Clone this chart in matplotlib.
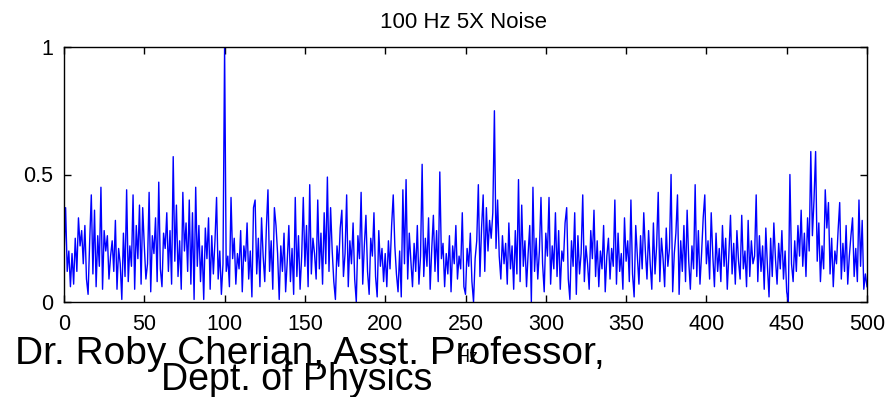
import matplotlib
matplotlib.use("Agg")
import matplotlib.pyplot as plt

title = "100 Hz 5X Noise"
xlabel = "Hz"
credit1 = "Dr. Roby Cherian, Asst. Professor,"
credit2 = "Dept. of Physics"
xticks = [0, 50, 100, 150, 200, 250, 300, 350, 400, 450, 500]
yticks = [0, 0.5, 1]
ytick_labels = ["0", "0.5", "1"]

# amplitude per Hz, 0..500 Hz
amp = [
    0.18, 0.37, 0.12, 0.20, 0.06, 0.19, 0.07, 0.25, 0.12, 0.33,
    0.22, 0.28, 0.15, 0.30, 0.09, 0.03, 0.24, 0.42, 0.11, 0.36,
    0.06, 0.26, 0.14, 0.45, 0.05, 0.28, 0.20, 0.26, 0.09, 0.18,
    0.24, 0.12, 0.32, 0.05, 0.21, 0.15, 0.01, 0.27, 0.10, 0.44,
    0.08, 0.22, 0.14, 0.42, 0.05, 0.30, 0.17, 0.38, 0.07, 0.37,
    0.22, 0.09, 0.15, 0.43, 0.04, 0.26, 0.19, 0.33, 0.08, 0.47,
    0.13, 0.06, 0.27, 0.21, 0.35, 0.12, 0.28, 0.07, 0.57, 0.16,
    0.38, 0.10, 0.24, 0.05, 0.43, 0.20, 0.31, 0.12, 0.40, 0.07,
    0.35, 0.01, 0.45, 0.14, 0.30, 0.08, 0.22, 0.01, 0.29, 0.17,
    0.33, 0.05, 0.26, 0.11, 0.24, 0.41, 0.09, 0.20, 0.03, 0.15,
    1.00, 0.12, 0.18, 0.06, 0.41, 0.17, 0.25, 0.07, 0.19, 0.13,
    0.28, 0.04, 0.22, 0.16, 0.31, 0.09, 0.20, 0.02, 0.37, 0.40,
    0.11, 0.25, 0.06, 0.33, 0.18, 0.08, 0.29, 0.44, 0.12, 0.24,
    0.05, 0.37, 0.30, 0.19, 0.01, 0.22, 0.12, 0.27, 0.04, 0.16,
    0.30, 0.08, 0.21, 0.03, 0.41, 0.10, 0.26, 0.05, 0.18, 0.41,
    0.14, 0.30, 0.06, 0.46, 0.11, 0.25, 0.19, 0.09, 0.40, 0.13,
    0.27, 0.07, 0.35, 0.15, 0.49, 0.12, 0.37, 0.20, 0.08, 0.01,
    0.22, 0.14, 0.29, 0.36, 0.10, 0.19, 0.42, 0.06, 0.24, 0.15,
    0.31, 0.09, 0.00, 0.26, 0.17, 0.43, 0.07, 0.22, 0.34, 0.12,
    0.03, 0.25, 0.18, 0.35, 0.10, 0.02, 0.28, 0.14, 0.21, 0.08,
    0.19, 0.06, 0.24, 0.13, 0.30, 0.42, 0.22, 0.11, 0.04, 0.20,
    0.02, 0.44, 0.15, 0.48, 0.09, 0.27, 0.16, 0.06, 0.23, 0.12,
    0.30, 0.07, 0.18, 0.54, 0.10, 0.25, 0.14, 0.33, 0.05, 0.21,
    0.34, 0.12, 0.28, 0.08, 0.51, 0.17, 0.23, 0.06, 0.19, 0.11,
    0.26, 0.04, 0.22, 0.15, 0.30, 0.09, 0.18, 0.13, 0.35, 0.06,
    0.03, 0.21, 0.14, 0.27, 0.08, 0.00, 0.17, 0.24, 0.46, 0.10,
    0.29, 0.42, 0.12, 0.37, 0.20, 0.32, 0.25, 0.35, 0.75, 0.21,
    0.40, 0.18, 0.09, 0.26, 0.15, 0.23, 0.07, 0.31, 0.13, 0.22,
    0.05, 0.28, 0.11, 0.48, 0.08, 0.38, 0.14, 0.24, 0.06, 0.19,
    0.30, 0.00, 0.45, 0.12, 0.25, 0.09, 0.20, 0.41, 0.15, 0.04,
    0.27, 0.18, 0.41, 0.07, 0.22, 0.13, 0.35, 0.10, 0.28, 0.05,
    0.20, 0.16, 0.31, 0.37, 0.09, 0.01, 0.24, 0.14, 0.35, 0.03,
    0.26, 0.11, 0.19, 0.42, 0.08, 0.22, 0.15, 0.05, 0.28, 0.17,
    0.36, 0.10, 0.24, 0.06, 0.20, 0.13, 0.30, 0.04, 0.18, 0.25,
    0.09, 0.21, 0.14, 0.40, 0.07, 0.27, 0.12, 0.19, 0.05, 0.33,
    0.16, 0.24, 0.08, 0.40, 0.11, 0.02, 0.30, 0.18, 0.07, 0.26,
    0.13, 0.35, 0.20, 0.09, 0.28, 0.15, 0.05, 0.31, 0.11, 0.22,
    0.43, 0.08, 0.25, 0.17, 0.06, 0.29, 0.14, 0.21, 0.50, 0.04,
    0.19, 0.27, 0.42, 0.03, 0.24, 0.12, 0.30, 0.08, 0.36, 0.16,
    0.05, 0.22, 0.13, 0.46, 0.10, 0.28, 0.07, 0.19, 0.33, 0.42,
    0.15, 0.24, 0.09, 0.35, 0.18, 0.06, 0.27, 0.12, 0.21, 0.08,
    0.30, 0.14, 0.25, 0.05, 0.19, 0.34, 0.11, 0.23, 0.07, 0.28,
    0.16, 0.09, 0.34, 0.13, 0.20, 0.06, 0.32, 0.10, 0.24, 0.15,
    0.18, 0.42, 0.08, 0.26, 0.12, 0.22, 0.05, 0.29, 0.14, 0.02,
    0.25, 0.10, 0.31, 0.17, 0.07, 0.23, 0.13, 0.28, 0.09, 0.20,
    0.04, 0.00, 0.50, 0.15, 0.08, 0.24, 0.12, 0.30, 0.18, 0.36,
    0.14, 0.27, 0.10, 0.33, 0.20, 0.59, 0.26, 0.40, 0.59, 0.16,
    0.31, 0.08, 0.22, 0.13, 0.44, 0.29, 0.39, 0.11, 0.25, 0.06,
    0.20, 0.15, 0.28, 0.39, 0.09, 0.23, 0.12, 0.30, 0.07, 0.18,
    0.26, 0.33, 0.10, 0.21, 0.08, 0.40, 0.14, 0.32, 0.05, 0.11,
    0.06,
]
freq = list(range(len(amp)))

plt.rcParams["font.family"] = ["Liberation Sans", "DejaVu Sans"]

fig = plt.figure(figsize=(8.9, 3.97), dpi=100)
ax = fig.add_axes([64/890, 1 - 302/397, (867-64)/890, (302-47)/397])
ax.plot(freq, amp, color=(0, 0, 1), lw=1.0)
ax.set_xlim(0, 500)
ax.set_ylim(0, 1)
ax.set_xticks(xticks)
ax.set_xticklabels([str(t) for t in xticks])
ax.set_yticks(yticks)
ax.set_yticklabels(ytick_labels)
ax.tick_params(direction="in", top=True, right=True, length=5, width=1,
               labelsize=15.5)
ax.tick_params(axis="x", pad=9)
ax.tick_params(axis="y", pad=8)
for s in ax.spines.values():
    s.set_linewidth(1.0)

fig.text(464/890, 1 - 22/397, title, ha="center", va="center", fontsize=16)
fig.text(468/890, 1 - 357/397, xlabel, ha="center", va="center", fontsize=13)
fig.text(15/890, 1 - 364/397, credit1, ha="left", va="baseline", fontsize=28)
fig.text(297/890, 1 - 390/397, credit2, ha="center", va="baseline", fontsize=27)

fig.savefig("out.png", dpi=100)
